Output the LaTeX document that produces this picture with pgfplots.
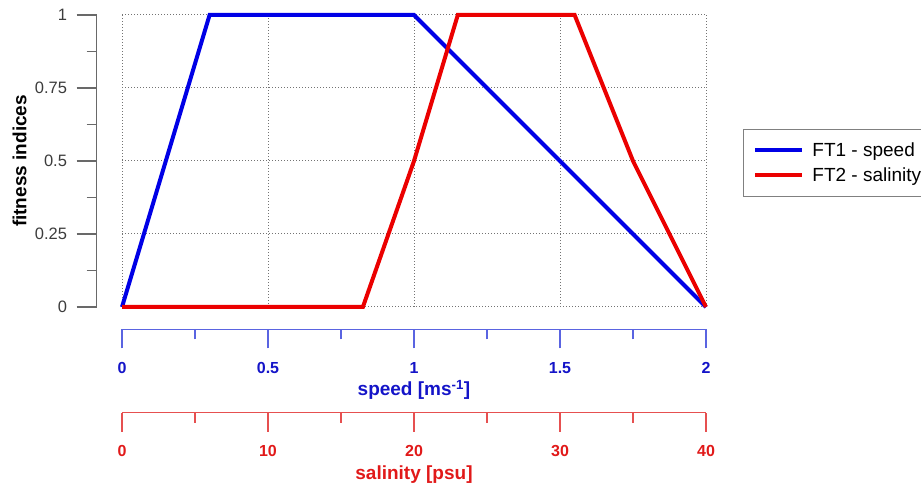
\documentclass[border=0pt]{standalone}
\usepackage{pgfplots}
\pgfplotsset{compat=1.18}
\usepackage{fontspec}
\setmainfont{Liberation Sans}
\definecolor{fblue}{RGB}{0,0,230}
\definecolor{fred}{RGB}{235,0,0}
\definecolor{ablue}{RGB}{90,100,225}
\definecolor{tblue}{RGB}{20,20,200}
\definecolor{ared}{RGB}{230,80,80}
\definecolor{tred}{RGB}{225,25,25}
\definecolor{agray}{RGB}{105,105,105}
\definecolor{tgray}{RGB}{60,60,60}
\begin{document}
\begin{tikzpicture}
\useasboundingbox (0,0) rectangle (921pt,484pt);
% main plotting axis
\begin{axis}[at={(122pt,177pt)}, anchor=south west, scale only axis,
  width=584pt, height=292pt, xmin=0, xmax=2, ymin=0, ymax=1,
  xtick={0,0.5,...,2}, ytick={0,0.25,...,1}, xticklabels={}, yticklabels={},
  axis line style={draw=none}, major tick length=0pt,
  grid=major, major grid style={gray!90!black, line width=1pt, dash pattern=on 1pt off 2pt},
  clip=false,
  legend image code/.code={\draw[#1] (0pt,0pt) -- (47pt,0pt);},
  legend style={at={(1.0634,0.6096)}, anchor=north west, draw=gray, line width=0.8pt,
    font=\fontsize{19}{22}\selectfont, inner xsep=10pt, inner ysep=11pt,
    row sep=6pt, column sep=6pt, nodes={inner sep=2pt}, legend cell align=left},
]
\addplot[fblue, line width=4pt] coordinates {(0,0) (0.3,1) (1,1) (2,0)};
\addplot[fred, line width=4pt] coordinates {(0,0) (0.825,0) (1,0.5) (1.15,1) (1.55,1) (1.75,0.5) (2,0)};
\legend{FT1 - speed, FT2 - salinity}
\end{axis}
% left y axis
\begin{axis}[at={(96.5pt,177pt)}, anchor=south west, scale only axis,
  width=584pt, height=292pt, xmin=0, xmax=2, ymin=0, ymax=1,
  axis y line*=left, hide x axis,
  ytick={0,0.25,0.5,0.75,1}, yticklabels={0,0.25,0.5,0.75,1},
  minor y tick num=1, tick align=outside,
  major tick length=20pt, minor tick length=10pt,
  y axis line style={agray, line width=1.5pt}, ytick style={agray, line width=1.5pt},
  yticklabel style={font=\fontsize{16.5}{19}\selectfont, text=tgray, xshift=-6pt},
  ylabel={fitness indices},
  ylabel style={font=\fontsize{19}{22}\selectfont\bfseries, at={(axis description cs:-0.1318,0.5)}, anchor=center},
]
\end{axis}
% speed axis
\begin{axis}[at={(122pt,154.5pt)}, anchor=south west, scale only axis,
  width=584pt, height=10pt, xmin=0, xmax=2, ymin=0, ymax=1,
  axis x line*=bottom, hide y axis,
  xtick={0,0.5,1,1.5,2}, xticklabels={0,0.5,1,1.5,2},
  minor x tick num=1, tick align=outside,
  major tick length=19pt, minor tick length=10pt,
  x axis line style={ablue, line width=1.2pt}, xtick style={ablue, line width=1.2pt},
  xticklabel style={font=\fontsize{16}{19}\selectfont\bfseries, text=tblue, yshift=-10pt},
  xlabel={speed [ms\textsuperscript{-1}]},
  xlabel style={font=\fontsize{19}{22}\selectfont\bfseries, text=tblue, at={(axis description cs:0.5,0)}, anchor=center, yshift=-60.5pt},
]
\end{axis}
% salinity axis
\begin{axis}[at={(122pt,71.3pt)}, anchor=south west, scale only axis,
  width=584pt, height=10pt, xmin=0, xmax=40, ymin=0, ymax=1,
  axis x line*=bottom, hide y axis,
  xtick={0,10,20,30,40}, xticklabels={0,10,20,30,40},
  minor x tick num=1, tick align=outside,
  major tick length=19pt, minor tick length=10pt,
  x axis line style={ared, line width=1.2pt}, xtick style={ared, line width=1.2pt},
  xticklabel style={font=\fontsize{16}{19}\selectfont\bfseries, text=tred, yshift=-10pt},
  xlabel={salinity [psu]},
  xlabel style={font=\fontsize{19}{22}\selectfont\bfseries, text=tred, at={(axis description cs:0.5,0)}, anchor=center, yshift=-62pt},
]
\end{axis}
\end{tikzpicture}
\end{document}
